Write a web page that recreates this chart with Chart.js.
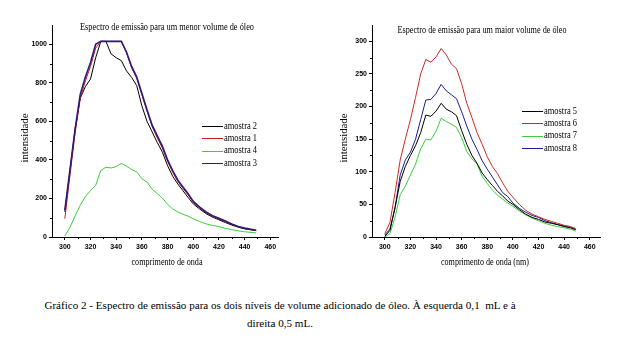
<!DOCTYPE html>
<html>
<head>
<meta charset="utf-8">
<script src="https://cdn.jsdelivr.net/npm/chart.js@4/dist/chart.umd.min.js"></script>
<style>
  body { margin: 0; background: #fff; width: 637px; height: 354px; position: relative; overflow: hidden; }
  canvas { position: absolute; top: 0; }
  #left { left: 0; }
  #right { left: 320px; }
  #caption {
    position: absolute; left: 0; top: 296px; width: 560px; text-align: center;
    font-family: 'Liberation Serif', serif; font-size: 11.1px; line-height: 18px; color: #000;
  }
</style>
</head>
<body>
<canvas id="left" width="300" height="280"></canvas>
<canvas id="right" width="300" height="280"></canvas>
<div id="caption">Gráfico 2 - Espectro de emissão para os dois níveis de volume adicionado de óleo. À esquerda 0,1&nbsp; mL e à<br>direita 0,5 mL.</div>
<script>
// wavelengths (nm), same grid for both panels
const wavelengths = [300, 304, 308, 312, 316, 320, 324, 328, 332, 336, 340, 344, 348, 352, 356, 360, 364, 368,
  372, 376, 380, 384, 388, 392, 396, 400, 405, 410, 415, 420, 425, 430, 435, 440, 445, 449];

// left panel: smaller oil volume
const amostra2 = [130, 340, 560, 720, 780, 820, 930, 1015, 1015, 950, 930, 915, 862, 828, 785, 680, 600, 545,
  490, 440, 370, 315, 275, 240, 205, 172, 145, 121, 103, 89, 75, 62, 51, 42, 37, 33];
const amostra1 = [95, 320, 540, 720, 810, 885, 980, 1015, 1015, 1015, 1015, 1015, 955, 878, 822, 738, 652, 572,
  515, 460, 392, 335, 288, 252, 218, 180, 150, 126, 106, 93, 80, 66, 53, 44, 38, 33];
const amostra4 = [5, 50, 110, 165, 210, 240, 268, 345, 362, 358, 365, 382, 368, 350, 338, 302, 285, 248,
  225, 202, 170, 145, 130, 118, 108, 95, 80, 68, 60, 54, 45, 38, 32, 27, 24, 21];
const amostra3 = [139, 350, 560, 740, 830, 905, 1000, 1015, 1015, 1015, 1015, 1015, 960, 885, 830, 745, 660, 580,
  525, 470, 400, 345, 295, 260, 225, 185, 155, 130, 110, 97, 83, 68, 55, 46, 40, 35];

// right panel: larger oil volume
const amostra5 = [1, 10, 45, 85, 108, 125, 140, 160, 187, 185, 193, 205, 196, 192, 186, 163, 142, 125,
  113, 98, 88, 79, 70, 63, 55, 50, 42, 35, 30, 27, 23, 21, 19, 16, 14, 11];
const amostra6 = [5, 22, 68, 118, 150, 180, 214, 250, 272, 268, 276, 289, 279, 265, 258, 235, 205, 183,
  160, 142, 123, 108, 97, 83, 70, 61, 50, 41, 35, 31, 27, 24, 21, 18, 16, 13];
const amostra7 = [0, 5, 30, 65, 78, 95, 112, 135, 150, 149, 162, 182, 177, 173, 168, 152, 131, 120,
  112, 93, 82, 72, 64, 58, 52, 47, 40, 34, 29, 25, 21, 18, 16, 14, 12, 9];
const amostra8 = [3, 12, 45, 95, 118, 130, 150, 180, 210, 211, 220, 234, 224, 218, 212, 192, 170, 150,
  134, 117, 104, 92, 80, 68, 62, 52, 44, 38, 33, 30, 25, 22, 19, 17, 15, 12];

const xTicks = [300, 320, 340, 360, 380, 400, 420, 440, 460];
const xMinor = [310, 330, 350, 370, 390, 410, 430, 450];
const leftYTicks = [0, 200, 400, 600, 800, 1000];
const leftYMinor = [100, 300, 500, 700, 900];
const rightYTicks = [0, 50, 100, 150, 200, 250, 300];
const rightYMinor = [25, 75, 125, 175, 225, 275];

const SERIF = "'Liberation Serif', 'Times New Roman', serif";

function fitText(ctx, text, x, y, width, size, align) {
  ctx.save();
  ctx.font = size + 'px ' + SERIF;
  const w = ctx.measureText(text).width;
  const k = width / w;
  ctx.translate(x, y);
  ctx.scale(k, 1);
  ctx.textBaseline = 'middle';
  ctx.textAlign = align || 'center';
  ctx.fillStyle = '#000';
  ctx.fillText(text, 0, 0);
  ctx.restore();
}

const decorPlugin = {
  id: 'decor',
  afterDraw(chart, args, o) {
    const ctx = chart.ctx;
    const xs = chart.scales.x, ys = chart.scales.y;
    // minor ticks
    ctx.save();
    ctx.strokeStyle = '#000';
    ctx.lineWidth = 1;
    ctx.beginPath();
    o.xMinor.forEach((v) => {
      const px = Math.round(xs.getPixelForValue(v)) + 0.5;
      ctx.moveTo(px, ys.bottom);
      ctx.lineTo(px, ys.bottom + 2);
    });
    o.yMinor.forEach((v) => {
      const py = Math.round(ys.getPixelForValue(v)) + 0.5;
      ctx.moveTo(xs.left - 2, py);
      ctx.lineTo(xs.left, py);
    });
    ctx.stroke();
    ctx.restore();

    fitText(ctx, o.title, o.titleX, o.titleY, o.titleW, 10);
    fitText(ctx, o.xTitle, o.xTitleX, 262, o.xTitleW, 10);
    ctx.save();
    ctx.translate(o.yTitleX, 138);
    ctx.rotate(-Math.PI / 2);
    fitText(ctx, 'intensidade', 0, 0, 49, 10);
    ctx.restore();

    // legend
    chart.data.datasets.forEach((ds, i) => {
      const y = o.legendY + i * 12.3;
      ctx.save();
      ctx.strokeStyle = ds.borderColor;
      ctx.lineWidth = 1;
      ctx.beginPath();
      ctx.moveTo(202, Math.round(y) + 0.5);
      ctx.lineTo(223, Math.round(y) + 0.5);
      ctx.stroke();
      ctx.restore();
      fitText(ctx, ds.label, 224, y, 33, 11, 'left');
    });
  }
};

function line(label, data, color, order, width) {
  return {
    label,
    data: data.map((v, i) => ({ x: wavelengths[i], y: v })),
    borderColor: color,
    backgroundColor: color,
    borderWidth: width || 1,
    pointRadius: 0,
    tension: 0,
    fill: false,
    order
  };
}

function makeChart(id, datasets, yMax, yTicks, xMax, padRight, decor) {
  const tickFont = { family: "'Liberation Sans', Arial, sans-serif", size: 7, weight: 'bold' };
  return new Chart(document.getElementById(id), {
    type: 'line',
    data: { datasets },
    options: {
      responsive: false,
      animation: false,
      devicePixelRatio: 1,
      layout: { padding: { top: 25, right: padRight, left: 0, bottom: 0 } },
      plugins: { legend: { display: false }, tooltip: { enabled: false }, decor },
      scales: {
        x: {
          type: 'linear', min: 290, max: xMax,
          afterBuildTicks: (s) => { s.ticks = xTicks.map((v) => ({ value: v })); },
          afterFit: (s) => { s.height = 43; },
          grid: { drawOnChartArea: false, drawTicks: true, tickLength: 3, tickColor: '#000' },
          border: { display: true, color: '#000' },
          ticks: { color: '#000', font: tickFont, padding: 3, maxRotation: 0, autoSkip: false,
            callback: (v) => String(v) }
        },
        y: {
          min: 0, max: yMax,
          afterBuildTicks: (s) => { s.ticks = yTicks.map((v) => ({ value: v })); },
          afterFit: (s) => { s.width = 52; },
          grid: { drawOnChartArea: false, drawTicks: true, tickLength: 3, tickColor: '#000' },
          border: { display: true, color: '#000' },
          ticks: { color: '#000', font: tickFont, padding: 2, callback: (v) => String(v) }
        }
      }
    },
    plugins: [decorPlugin]
  });
}

makeChart('left', [
  line('amostra 2', amostra2, '#000000', 2),
  line('amostra 1', amostra1, '#cc1a1a', 1),
  line('amostra 4', amostra4, '#3ccc3c', 3),
  line('amostra 3', amostra3, '#2a1a7a', 0, 1.6)
], 1100, leftYTicks, 466, 22, {
  xMinor, yMinor: leftYMinor,
  title: 'Espectro de emissão para um menor volume de óleo', titleX: 167, titleY: 27, titleW: 174,
  xTitle: 'comprimento de onda', xTitleX: 167, xTitleW: 71, yTitleX: 25, legendY: 126
});

makeChart('right', [
  line('amostra 5', amostra5, '#000000', 1),
  line('amostra 6', amostra6, '#cc2a2a', 0),
  line('amostra 7', amostra7, '#3ccc3c', 3),
  line('amostra 8', amostra8, '#1a1a90', 2)
], 325, rightYTicks, 468, 20, {
  xMinor, yMinor: rightYMinor,
  title: 'Espectro de emissão para um maior volume de óleo', titleX: 162, titleY: 30, titleW: 169,
  xTitle: 'comprimento de onda (nm)', xTitleX: 165, xTitleW: 88, yTitleX: 24, legendY: 111
});
</script>
</body>
</html>
